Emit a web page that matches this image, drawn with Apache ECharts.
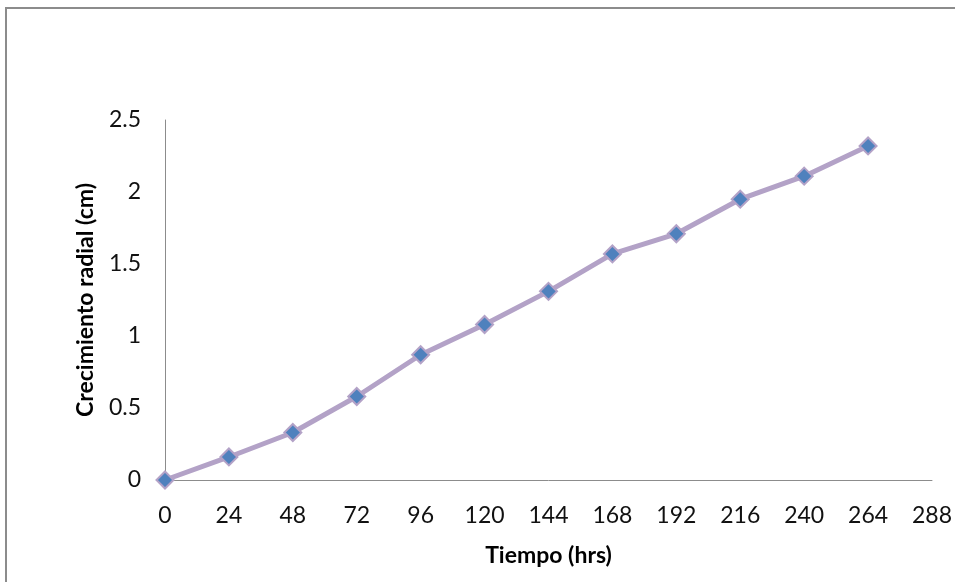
<!DOCTYPE html>
<html>
<head>
<meta charset="utf-8">
<script src="https://cdn.jsdelivr.net/npm/echarts@6/dist/echarts.min.js"></script>
<style>
  html, body { margin: 0; padding: 0; background: #fff; }
  #frame { position: absolute; left: 5px; top: 7px; width: 960px; height: 580px; border: 2px solid #8c8c8c; box-sizing: border-box; }
  #chart { position: absolute; left: 0; top: 0; width: 955px; height: 582px; }
</style>
</head>
<body>
<div id="frame"></div>
<div id="chart"></div>
<script>
// tiempo (hrs) vs crecimiento radial (cm)
const hours = [0, 24, 48, 72, 96, 120, 144, 168, 192, 216, 240, 264];
const growth = [0, 0.16, 0.33, 0.58, 0.87, 1.08, 1.31, 1.57, 1.71, 1.95, 2.11, 2.32];

const chart = echarts.init(document.getElementById('chart'));
const font = 'Lato, "Open Sans", sans-serif';

chart.setOption({
  animation: false,
  grid: { left: 165, top: 120, right: 20, bottom: 102 },
  xAxis: {
    type: 'value', min: 0, max: 288, interval: 24,
    name: 'Tiempo (hrs)', nameLocation: 'middle', nameGap: 64,
    nameTextStyle: { fontFamily: font, fontWeight: 'bold', fontSize: 23, color: '#000' },
    axisLine: { show: true, lineStyle: { color: '#8c8c8c', width: 1 } },
    axisTick: { show: false },
    splitLine: { show: false },
    axisLabel: { fontFamily: font, fontSize: 23, color: '#111', margin: 24 }
  },
  yAxis: {
    type: 'value', min: 0, max: 2.5, interval: 0.5,
    name: 'Crecimiento radial (cm)', nameLocation: 'middle', nameGap: 68, nameRotate: 90,
    nameTextStyle: { fontFamily: font, fontWeight: 'bold', fontSize: 23, color: '#000' },
    axisLine: { show: true, lineStyle: { color: '#8c8c8c', width: 1 } },
    axisTick: { show: false },
    splitLine: { show: false },
    axisLabel: { fontFamily: font, fontSize: 23, color: '#111', margin: 24 }
  },
  series: [{
    type: 'line',
    data: hours.map((h, i) => [h, growth[i]]),
    lineStyle: { color: '#b3a2c7', width: 5 },
    symbol: 'diamond',
    symbolSize: 17,
    itemStyle: { color: '#4f81bd', borderColor: '#b3a2c7', borderWidth: 2 }
  }]
});
</script>
</body>
</html>
